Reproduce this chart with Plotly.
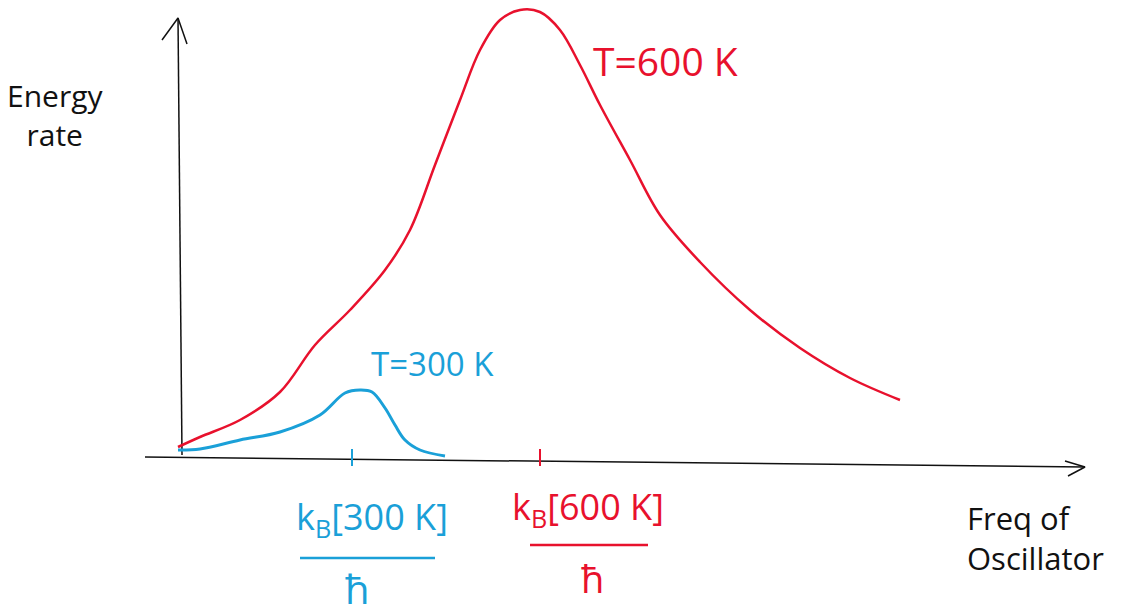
"""Hand-sketch style Planck curves at two temperatures."""

import plotly.graph_objects as go

RED = "#e8112d"
BLUE = "#1aa0d8"
INK = "#111111"
FONT = "Open Sans, DejaVu Sans, sans-serif"

# sketch units: frequency (right), energy rate (up)
freq_600 = [-2, 20, 60, 100, 135, 170, 205, 230, 255, 280, 300, 320, 340, 360,
            380, 400, 420, 450, 480, 520, 570, 620, 670, 720]
rate_600 = [10, 20, 37, 65, 112, 147, 187, 227, 292, 357, 407, 437, 447, 445,
            427, 392, 352, 297, 242, 195, 147, 109, 79, 57]

freq_300 = [-2, 20, 60, 100, 140, 165, 180, 192, 205, 215, 225, 240, 265]
rate_300 = [7, 8, 17, 25, 42, 64, 67, 65, 49, 32, 17, 7, 1]

# peak-frequency ticks on the frequency axis
tick_freqs = [172, 360]
tick_colors = [BLUE, RED]
tick_labels = ["k<sub>B</sub>[300 K]", "k<sub>B</sub>[600 K]"]

# fraction bars under the tick labels (start, end, level)
bar_spans = [(120, 255, -101), (350, 468, -88)]

fig = go.Figure()

# axes, drawn by hand
axis_lines = [
    ([-35, 905], [0, -10]),            # frequency axis
    ([885, 905, 888], [-4, -10, -19]),  # its arrow
    ([2, -2], [2, 439]),               # energy axis
    ([-18, -2, 7], [417, 439, 413]),   # its arrow
]
for xs, ys in axis_lines:
    fig.add_trace(go.Scatter(x=xs, y=ys, mode="lines",
                             line=dict(color=INK, width=1.5), hoverinfo="skip"))

fig.add_trace(go.Scatter(x=freq_600, y=rate_600, mode="lines", name="T=600 K",
                         line=dict(color=RED, width=2.5, shape="spline")))
fig.add_trace(go.Scatter(x=freq_300, y=rate_300, mode="lines", name="T=300 K",
                         line=dict(color=BLUE, width=3, shape="spline")))

for f, c in zip(tick_freqs, tick_colors):
    fig.add_trace(go.Scatter(x=[f, f], y=[8, -9], mode="lines",
                             line=dict(color=c, width=2), hoverinfo="skip"))

for (x0, x1, lvl), c in zip(bar_spans, tick_colors):
    fig.add_trace(go.Scatter(x=[x0, x1], y=[lvl, lvl], mode="lines",
                             line=dict(color=c, width=2.5), hoverinfo="skip"))

notes = [
    dict(x=-125, y=342, text="Energy<br>rate", font=dict(size=30, color=INK)),
    dict(x=485, y=397, text="T=600 K", font=dict(size=39, color=RED)),
    dict(x=252, y=94, text="T=300 K", font=dict(size=33, color=BLUE)),
    dict(x=192, y=-61, text=tick_labels[0], font=dict(size=36, color=BLUE)),
    dict(x=177, y=-131, text="ħ", font=dict(size=40, color=BLUE)),
    dict(x=408, y=-51, text=tick_labels[1], font=dict(size=36, color=RED)),
    dict(x=412, y=-121, text="ħ", font=dict(size=38, color=RED)),
    dict(x=785, y=-81, text="Freq of<br>Oscillator", xanchor="left", align="left",
         font=dict(size=31, color=INK)),
]
for n in notes:
    n["font"]["family"] = FONT
    fig.add_annotation(showarrow=False, xref="x", yref="y", **n)

# ranges offset by the page's 8px body margin
fig.update_layout(
    width=1138,
    height=616,
    margin=dict(l=0, r=0, t=0, b=0),
    paper_bgcolor="white",
    plot_bgcolor="white",
    showlegend=False,
    xaxis=dict(range=[-172, 966], visible=False, fixedrange=True),
    yaxis=dict(range=[-167, 449], visible=False, fixedrange=True),
)

fig.write_html("out.html")
